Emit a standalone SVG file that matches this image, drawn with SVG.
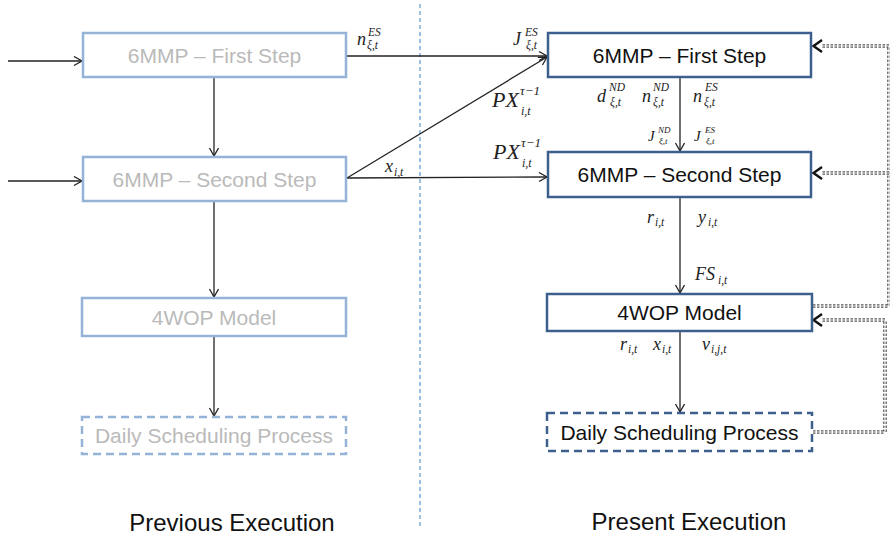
<svg xmlns="http://www.w3.org/2000/svg" width="890" height="535" viewBox="0 0 890 535">
<style>
.bxL{fill:#fff;stroke:#95b3d7;stroke-width:2.5}
.bxR{fill:#fff;stroke:#3c5f8d;stroke-width:2.5}
.dash{stroke-dasharray:8 5}
.tL{font-family:"Liberation Sans",Arial,sans-serif;font-size:21px;fill:#bababa;text-anchor:middle}
.tR{font-family:"Liberation Sans",Arial,sans-serif;font-size:21px;fill:#111;text-anchor:middle}
.ttl{font-family:"Liberation Sans",Arial,sans-serif;font-size:24px;fill:#111;text-anchor:middle}
.ln{fill:none;stroke:#222;stroke-width:1.3}
.fbo{fill:none;stroke:#555;stroke-width:3.6;stroke-dasharray:2.5 1.5}
.fbi{fill:none;stroke:#fff;stroke-width:1.2}
.m{font-family:"Liberation Serif","Times New Roman",serif;font-style:italic;fill:#222}
.b{font-size:18px}
.s{font-size:11.5px}
.sep{stroke:#5b9bd5;stroke-width:1.2;stroke-dasharray:4 3;fill:none}
</style>
<defs>
<marker id="ah" markerWidth="12" markerHeight="12" refX="9" refY="5" orient="auto" markerUnits="userSpaceOnUse">
<path d="M1,0.5 L9,5 L1,9.5" fill="none" stroke="#222" stroke-width="1.3"/>
</marker>
</defs>
<rect width="890" height="535" fill="#fff"/>
<line class="sep" x1="420" y1="4" x2="420" y2="528"/>
<g id="connectors">
<line class="ln" x1="8" y1="61" x2="82" y2="61" marker-end="url(#ah)"/>
<line class="ln" x1="8" y1="181" x2="82" y2="181" marker-end="url(#ah)"/>
<line class="ln" x1="214" y1="78" x2="214" y2="156" marker-end="url(#ah)"/>
<line class="ln" x1="214" y1="202" x2="214" y2="297" marker-end="url(#ah)"/>
<line class="ln" x1="214" y1="337" x2="214" y2="416" marker-end="url(#ah)"/>
<line class="ln" x1="347" y1="56" x2="547" y2="56" marker-end="url(#ah)"/>
<line class="ln" x1="347" y1="178" x2="547" y2="57" marker-end="url(#ah)"/>
<line class="ln" x1="347" y1="178" x2="547" y2="177" marker-end="url(#ah)"/>
<line class="ln" x1="680" y1="78" x2="680" y2="151" marker-end="url(#ah)"/>
<line class="ln" x1="680" y1="198" x2="680" y2="293" marker-end="url(#ah)"/>
<line class="ln" x1="680" y1="332" x2="680" y2="412" marker-end="url(#ah)"/>
<path class="fbo" d="M813,306 H889 V46 H822"/>
<path class="fbi" d="M813,306 H889 V46 H822"/>
<path class="fbo" d="M889,173 H822"/>
<path class="fbi" d="M889,173 H822"/>
<path class="fbo" d="M813,432 H885 V320 H822"/>
<path class="fbi" d="M813,432 H885 V320 H822"/>
<path d="M822,40 L813.5,46 L822,52" fill="none" stroke="#111" stroke-width="2.4"/>
<path d="M822,167 L813.5,173 L822,179" fill="none" stroke="#111" stroke-width="2.4"/>
<path d="M822,314 L813.5,320 L822,326" fill="none" stroke="#111" stroke-width="2.4"/>
</g>
<g id="prev-first"><rect class="bxL" x="83" y="33" width="263" height="44"/><text class="tL" x="214.5" y="62.5">6MMP – First Step</text></g>
<g id="prev-second"><rect class="bxL" x="83" y="157" width="263" height="44"/><text class="tL" x="214.5" y="186.5">6MMP – Second Step</text></g>
<g id="prev-4wop"><rect class="bxL" x="82" y="298" width="264" height="38"/><text class="tL" x="214" y="324.5">4WOP Model</text></g>
<g id="prev-daily"><rect class="bxL dash" x="82" y="417" width="264" height="37"/><text class="tL" x="214" y="443">Daily Scheduling Process</text></g>
<g id="pres-first"><rect class="bxR" x="548" y="33" width="263" height="44"/><text class="tR" x="679.5" y="62.5">6MMP – First Step</text></g>
<g id="pres-second"><rect class="bxR" x="548" y="152" width="263" height="45"/><text class="tR" x="679.5" y="182">6MMP – Second Step</text></g>
<g id="pres-4wop"><rect class="bxR" x="547" y="294" width="265" height="37"/><text class="tR" x="679.5" y="320">4WOP Model</text></g>
<g id="pres-daily"><rect class="bxR dash" x="547" y="413" width="265" height="38"/><text class="tR" x="679.5" y="439.5">Daily Scheduling Process</text></g>
<g id="labels">
<text class="m"><tspan class="b" x="357" y="45">n</tspan><tspan class="s" x="368" y="36">ES</tspan><tspan class="s" x="367" y="49">ξ,t</tspan></text>
<text class="m"><tspan class="b" x="513" y="45">J</tspan><tspan class="s" x="525" y="36">ES</tspan><tspan class="s" x="526" y="49">ξ,t</tspan></text>
<text class="m"><tspan x="492" y="107" font-size="22">PX</tspan><tspan x="520" y="95" font-size="13">τ−1</tspan><tspan x="521" y="115" font-size="12">i,t</tspan></text>
<text class="m"><tspan x="493" y="159" font-size="22">PX</tspan><tspan x="521" y="147" font-size="13">τ−1</tspan><tspan x="522" y="167" font-size="12">i,t</tspan></text>
<text class="m"><tspan class="b" x="597" y="102">d</tspan><tspan class="s" x="609" y="91">ND</tspan><tspan class="s" x="610" y="106">ξ,t</tspan></text>
<text class="m"><tspan class="b" x="642" y="102">n</tspan><tspan class="s" x="653" y="91">ND</tspan><tspan class="s" x="653" y="106">ξ,t</tspan></text>
<text class="m"><tspan class="b" x="693" y="102">n</tspan><tspan class="s" x="705" y="91">ES</tspan><tspan class="s" x="704" y="106">ξ,t</tspan></text>
<text class="m"><tspan x="648" y="141" font-size="15">J</tspan><tspan x="658" y="133" font-size="9">ND</tspan><tspan x="659" y="144" font-size="9">ξ,t</tspan></text>
<text class="m"><tspan x="694" y="141" font-size="15">J</tspan><tspan x="705" y="133" font-size="9">ES</tspan><tspan x="706" y="144" font-size="9">ξ,t</tspan></text>
<text class="m"><tspan class="b" x="647" y="223">r</tspan><tspan class="s" x="655" y="226">i,t</tspan></text>
<text class="m"><tspan class="b" x="698" y="223">y</tspan><tspan class="s" x="708" y="226">i,t</tspan></text>
<text class="m"><tspan class="b" x="695" y="280">FS</tspan><tspan class="s" x="718" y="284">i,t</tspan></text>
<text class="m"><tspan class="b" x="620" y="350">r</tspan><tspan class="s" x="628" y="353">i,t</tspan></text>
<text class="m"><tspan class="b" x="653" y="350">x</tspan><tspan class="s" x="662" y="353">i,t</tspan></text>
<text class="m"><tspan class="b" x="702" y="350">v</tspan><tspan class="s" x="711" y="353">i,j,t</tspan></text>
<text class="m"><tspan class="b" x="385" y="172">x</tspan><tspan class="s" x="394" y="176">i,t</tspan></text>
</g>
<text class="ttl" x="232" y="531">Previous Execution</text>
<text class="ttl" x="689" y="530">Present Execution</text>
</svg>
